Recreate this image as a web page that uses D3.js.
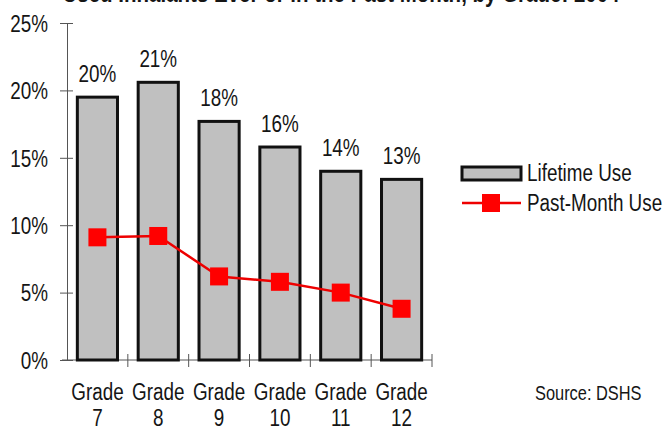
<!DOCTYPE html>
<html>
<head>
<meta charset="utf-8">
<script src="https://cdn.jsdelivr.net/npm/d3@7"></script>
<style>
  html, body { margin: 0; padding: 0; background: #fff; }
  svg { display: block; }
  text { font-family: "Liberation Sans", Arial, sans-serif; fill: #151515; }
</style>
</head>
<body>
<svg id="chart" width="664" height="428"></svg>
<script>
const title = "Used Inhalants Ever or in the Past Month, by Grade: 2004";
const gradeWords = ["Grade", "Grade", "Grade", "Grade", "Grade", "Grade"];
const gradeNums = ["7", "8", "9", "10", "11", "12"];
const lifetime = [19.5, 20.6, 17.7, 15.8, 14.0, 13.4];
const lifetimeLabels = ["20%", "21%", "18%", "16%", "14%", "13%"];
const pastMonth = [9.1, 9.2, 6.2, 5.8, 5.0, 3.8];
const yTicks = [0, 5, 10, 15, 20, 25];
const seriesNames = ["Lifetime Use", "Past-Month Use"];
const sourceNote = "Source: DSHS";

const SX = 0.82; // narrow-font look
const FS = 23;
const svg = d3.select("#chart");
const cats = gradeNums.map((n, i) => gradeWords[i] + " " + n);

const x = d3.scaleBand().domain(cats).range([67, 432]).paddingInner(0.34).paddingOuter(0.17);
const xb = d3.scaleBand().domain(cats).range([67, 432]);
const y = d3.scaleLinear().domain([0, 25]).range([360, 23]);

function narrowText(sel, px, py, str, size, anchor) {
  return sel.append("text")
    .attr("transform", `translate(${px},${py}) scale(${SX},1)`)
    .attr("text-anchor", anchor || "start")
    .style("font-size", size + "px")
    .text(str);
}

// title (cut off at top)
svg.append("text").attr("transform", `translate(341,2) scale(${SX},1)`).attr("text-anchor", "middle")
  .style("font-size", "25px").style("font-weight", "bold").text(title);

// y axis
const yAxis = svg.append("g").attr("transform", "translate(67,0)")
  .call(d3.axisLeft(y).tickValues(yTicks).tickFormat(d => d + "%").tickSize(7).tickSizeOuter(0));
yAxis.select(".domain").attr("stroke", "#555");
yAxis.selectAll(".tick line").attr("stroke", "#555").attr("x2", 6).attr("x1", -7);
yAxis.selectAll(".tick text").attr("x", 0).attr("dy", "0.36em")
  .attr("transform", `translate(-19,0) scale(${SX},1)`)
  .style("font-size", FS + "px").attr("fill", "#151515");

// x axis line and category boundary ticks
svg.append("line").attr("x1", 62).attr("x2", 432).attr("y1", y(0)).attr("y2", y(0)).attr("stroke", "#555");
svg.selectAll(".xtick").data(cats).join("line").attr("class", "xtick")
  .attr("x1", d => xb(d) + xb.bandwidth()).attr("x2", d => xb(d) + xb.bandwidth())
  .attr("y1", y(0) - 6).attr("y2", y(0) + 7).attr("stroke", "#555");

// bars
svg.selectAll(".bar").data(cats).join("rect").attr("class", "bar")
  .attr("x", d => x(d)).attr("width", x.bandwidth())
  .attr("y", (d, i) => y(lifetime[i])).attr("height", (d, i) => y(0) - y(lifetime[i]))
  .attr("fill", "#c0c0c0").attr("stroke", "#111").attr("stroke-width", 3);

// bar labels
cats.forEach((d, i) => {
  narrowText(svg, x(d) + x.bandwidth() / 2, y(lifetime[i]) - 15, lifetimeLabels[i], FS, "middle");
});

// line
const cx = d => xb(d) + xb.bandwidth() / 2;
svg.append("path").datum(cats)
  .attr("d", d3.line().x(d => cx(d)).y((d, i) => y(pastMonth[i])))
  .attr("fill", "none").attr("stroke", "#ee0000").attr("stroke-width", 2.5);
const ms = 18;
svg.selectAll(".mk").data(cats).join("rect").attr("class", "mk")
  .attr("x", d => cx(d) - ms / 2).attr("y", (d, i) => y(pastMonth[i]) - ms / 2)
  .attr("width", ms).attr("height", ms).attr("fill", "#ff0000");

// x labels
cats.forEach((d, i) => {
  narrowText(svg, cx(d), 400, gradeWords[i], FS, "middle");
  narrowText(svg, cx(d), 426, gradeNums[i], FS, "middle");
});

// legend
const lg = svg.append("g");
lg.append("rect").attr("x", 462).attr("y", 167).attr("width", 59).attr("height", 13)
  .attr("fill", "#c0c0c0").attr("stroke", "#111").attr("stroke-width", 3);
narrowText(lg, 527, 181, seriesNames[0], FS, "start");
lg.append("line").attr("x1", 462).attr("x2", 521).attr("y1", 203).attr("y2", 203)
  .attr("stroke", "#ee0000").attr("stroke-width", 2.5);
lg.append("rect").attr("x", 482).attr("y", 194).attr("width", 18).attr("height", 18).attr("fill", "#ff0000");
narrowText(lg, 527, 211, seriesNames[1], FS, "start");

// source
narrowText(svg, 535, 400, sourceNote, 20, "start").attr("fill", "#333");
</script>
</body>
</html>
